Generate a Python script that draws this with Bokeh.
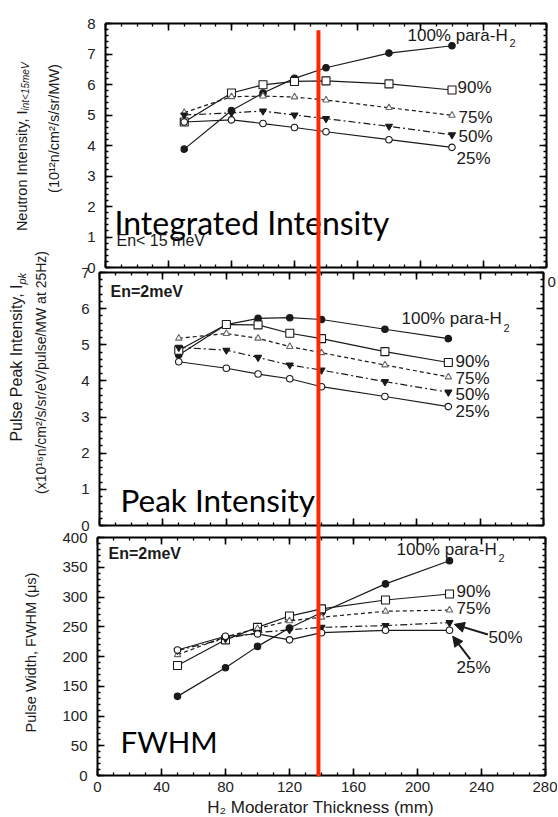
import math
from bokeh.plotting import figure
from bokeh.models import (Label, Arrow, NormalHead, LinearAxis, SingleIntervalTicker, Range1d)
from bokeh.embed import file_html
from bokeh.resources import INLINE

# ---------------- data ----------------
THICKNESS_MM = [50, 80, 100, 120, 140, 180, 220]

INTEG_100 = [3.88, 5.15, 5.72, 6.20, 6.55, 7.03, 7.27]
INTEG_90 = [4.77, 5.72, 5.99, 6.10, 6.12, 6.02, 5.82]
INTEG_75 = [5.08, 5.60, 5.62, 5.59, 5.49, 5.24, 4.99]
INTEG_50 = [5.00, 5.07, 5.13, 5.00, 4.88, 4.63, 4.35]
INTEG_25 = [4.77, 4.84, 4.72, 4.59, 4.45, 4.19, 3.94]

PEAK_100 = [4.72, 5.56, 5.73, 5.75, 5.70, 5.43, 5.17]
PEAK_90 = [4.85, 5.56, 5.55, 5.32, 5.17, 4.81, 4.51]
PEAK_75 = [5.18, 5.31, 5.18, 4.95, 4.78, 4.44, 4.11]
PEAK_50 = [4.93, 4.85, 4.65, 4.44, 4.30, 3.98, 3.69]
PEAK_25 = [4.53, 4.35, 4.19, 4.06, 3.84, 3.57, 3.29]

FWHM_100 = [133, 181, 217, 248, 274, 322, 361]
FWHM_90 = [185, 228, 249, 268, 280, 295, 305]
FWHM_75 = [203, 233, 247, 260, 266, 276, 278]
FWHM_50 = [210, 230, 240, 245, 249, 252, 257]
FWHM_25 = [211, 234, 238, 228, 240, 244, 244]

SERIES_NAMES = ["100% para-H", "90%", "75%", "50%", "25%"]
X_MAX_MM = 280
X_TICK_STEP = 40
# arrows pointing at the 50% and 25% FWHM curves: (x_start, y_start, x_end, y_end)
FWHM_ARROWS = [(244, 237, 223, 254), (233, 195, 222, 234)]
RED_LINE_MM = 138.1          # position in the FWHM panel's thickness scale
RED_LINE_INT_TOP = 7.78      # upper end, in the integrated-intensity scale

# ---------------- page layout (pixels) ----------------
W, H = 557, 816
PANELS = {
    "int": dict(left=105, right=546, zero=267, top=23, ymax=8, step=1),
    "pk": dict(left=99, right=543, zero=525, top=272, ymax=7, step=1),
    "fw": dict(left=97, right=545, zero=775, top=537, ymax=400, step=50),
}

INK = "#1a1a1a"
RED = "#ff2600"
TICK_FONT = "Liberation Sans"
BIG_FONT = "Lato"

STYLES = [
    dict(dash="solid", marker="circle", fill=INK, size=6.5, mline=INK),
    dict(dash="solid", marker="square", fill="white", size=8, mline=INK),
    dict(dash="4 3", marker="triangle", fill="white", size=6.5, mline="#666666"),
    dict(dash="7 3 2 3", marker="inverted_triangle", fill=INK, size=7, mline=INK),
    dict(dash="solid", marker="circle", fill="white", size=6.5, mline=INK),
]

p = figure(width=W, height=H, x_range=Range1d(0, W), y_range=Range1d(H, 0),
           x_axis_type=None, y_axis_type=None, min_border=0,
           output_backend="svg", toolbar_location=None)
p.outline_line_color = None
p.background_fill_color = "white"
p.border_fill_color = "white"


def setup_panel(name):
    g = PANELS[name]
    kx = (g["right"] - g["left"]) / X_MAX_MM
    ky = (g["zero"] - g["top"]) / g["ymax"]
    xn, yn = "x_" + name, "y_" + name
    p.extra_x_ranges[xn] = Range1d(-g["left"] / kx, (W - g["left"]) / kx)
    p.extra_y_ranges[yn] = Range1d((g["zero"] - H) / ky, g["zero"] / ky)
    for loc, fixed, is_x in [("below", 0, True), ("above", g["ymax"], True),
                             ("left", 0, False), ("right", X_MAX_MM, False)]:
        if is_x:
            ticker = SingleIntervalTicker(interval=X_TICK_STEP, num_minor_ticks=4)
            bounds = (0, X_MAX_MM)
        else:
            ticker = SingleIntervalTicker(interval=g["step"], num_minor_ticks=5)
            bounds = (0, g["ymax"])
        ax = LinearAxis(x_range_name=xn, y_range_name=yn, ticker=ticker,
                        fixed_location=fixed, bounds=bounds)
        ax.axis_line_width = 2
        ax.axis_line_color = "black"
        ax.major_tick_in = 7
        ax.major_tick_out = 0
        ax.minor_tick_in = 3
        ax.minor_tick_out = 0
        ax.major_tick_line_width = 1.6
        ax.minor_tick_line_width = 1.3
        ax.major_tick_line_color = "black"
        ax.minor_tick_line_color = "black"
        show = (loc == "left") or (loc == "below" and name == "fw")
        if show:
            ax.major_label_text_font = TICK_FONT
            ax.major_label_text_font_size = "15px"
            ax.major_label_text_color = "#222222"
            ax.major_label_standoff = 10 if loc == "left" else 6
        else:
            ax.major_label_text_color = None
        p.add_layout(ax, loc)
    return xn, yn


def draw_series(xn, yn, series_list):
    for ys, st in zip(series_list, STYLES):
        p.line(THICKNESS_MM, ys, line_color=INK, line_width=1.2, line_dash=st["dash"],
               x_range_name=xn, y_range_name=yn)
        p.scatter(THICKNESS_MM, ys, marker=st["marker"], size=st["size"],
                  fill_color=st["fill"], line_color=st["mline"], line_width=1.1,
                  x_range_name=xn, y_range_name=yn)


def add_text(X, Y, text, size, font=TICK_FONT, style="normal", align="left",
             baseline="middle", angle=0.0, color=INK):
    p.add_layout(Label(x=X, y=Y, text=text, text_font=font, text_font_size=f"{size}px",
                       text_font_style=style, text_align=align, text_baseline=baseline,
                       angle=angle, text_color=color))


def series_labels(positions, sub_pos):
    for name, (X, Y) in zip(SERIES_NAMES, positions):
        add_text(X, Y, name, 17)
    add_text(sub_pos[0], sub_pos[1], "2", 11)


UP = math.pi / 2

# ---------------- top panel: integrated intensity ----------------
xn, yn = setup_panel("int")
draw_series(xn, yn, [INTEG_100, INTEG_90, INTEG_75, INTEG_50, INTEG_25])
add_text(21, 110, "Neutron Intensity, I", 14.5, align="right", angle=UP)
add_text(25, 110, "int<15meV", 10, style="italic", angle=UP)
add_text(53, 128, "(10\u00b9\u00b2n/cm\u00b2/s/sr/MW)", 14.5, align="center", angle=UP)
add_text(114, 222, "Integrated Intensity", 32, font=BIG_FONT, color="black")
add_text(116, 240, "En< 15 meV", 16)
series_labels([(407, 35), (457, 87), (458, 117), (458, 136), (456, 158)], (509, 42))

# ---------------- middle panel: peak intensity ----------------
xn, yn = setup_panel("pk")
draw_series(xn, yn, [PEAK_100, PEAK_90, PEAK_75, PEAK_50, PEAK_25])
add_text(16, 284, "Pulse Peak Intensity, I", 16, align="right", angle=UP)
add_text(21, 284, "pk", 11, style="italic", angle=UP)
add_text(40, 372, "(x10\u00b9\u2076n/cm\u00b2/s/sr/eV/pulse/MW at 25Hz)", 14, align="center", angle=UP)
add_text(110, 291, "En=2meV", 16, style="bold")
add_text(120, 499, "Peak Intensity", 31.5, font=BIG_FONT, color="black")
add_text(547, 281, "0", 15)
series_labels([(401, 318), (455, 361), (455, 378), (455, 394), (455, 411)], (503, 327))

# ---------------- bottom panel: pulse width ----------------
xn, yn = setup_panel("fw")
draw_series(xn, yn, [FWHM_100, FWHM_90, FWHM_75, FWHM_50, FWHM_25])
for xs, ys, xe, ye in FWHM_ARROWS:
    p.add_layout(Arrow(x_start=xs, y_start=ys, x_end=xe, y_end=ye, line_width=2,
                       line_color=INK, x_range_name=xn, y_range_name=yn,
                       end=NormalHead(size=10, fill_color=INK, line_color=INK)))
add_text(30, 652, "Pulse Width, FWHM (\u03bcs)", 14.5, align="center", angle=UP)
add_text(108, 553, "En=2meV", 16, style="bold")
add_text(120, 741, "FWHM", 29.5, font=BIG_FONT, color="black")
series_labels([(396, 549), (456, 591), (456, 608), (488, 637), (456, 667)], (498, 557))
add_text(320, 807, "H\u2082 Moderator Thickness (mm)", 17, align="center")

# ---------------- red marker line across all panels ----------------
g_int, g_fw = PANELS["int"], PANELS["fw"]
red_top = g_int["zero"] - RED_LINE_INT_TOP * (g_int["zero"] - g_int["top"]) / g_int["ymax"]
red_bottom = g_fw["zero"] + 1
p.segment(x0=[RED_LINE_MM], y0=[red_top], x1=[RED_LINE_MM], y1=[red_bottom],
          x_range_name="x_fw", line_color=RED, line_width=4, level="overlay")

open("out.html", "w").write(file_html(p, INLINE))
